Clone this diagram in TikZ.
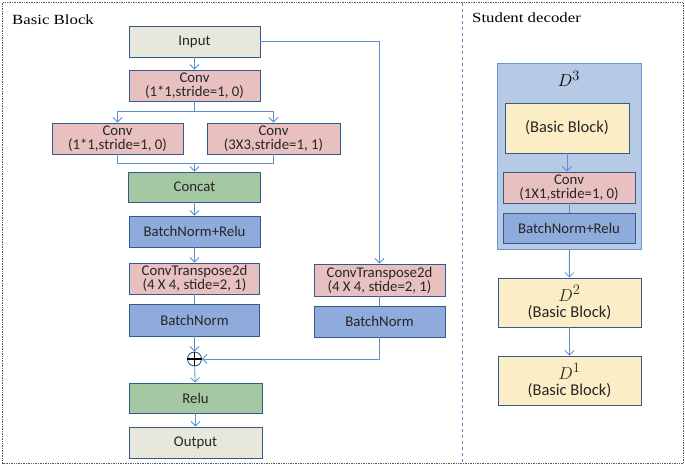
\documentclass[tikz,border=0pt]{standalone}
\usepackage{fontspec}
\setsansfont{Carlito}
\newfontfamily\titlefont[FakeStretch=1.2]{Liberation Serif}
\usetikzlibrary{arrows.meta}
\definecolor{bordc}{HTML}{34598C}
\definecolor{linec}{HTML}{5B8FCF}
\definecolor{beige}{HTML}{E8E7DB}
\definecolor{pinkc}{HTML}{E9C0C0}
\definecolor{greenc}{HTML}{A4C9A2}
\definecolor{bluec}{HTML}{8EABDB}
\definecolor{contc}{HTML}{B6CAE6}
\definecolor{contb}{HTML}{6F93C6}
\definecolor{yellc}{HTML}{FBEEC6}
\tikzset{
  box/.style={draw=bordc, line width=0.9pt, inner sep=0pt, align=center,
    font=\sffamily\fontsize{14.8}{14}\selectfont, text=black!85},
  conn/.style={draw=linec, line width=0.9pt},
  arr/.style={conn, -{Straight Barb[length=4.5pt,width=9pt,line width=0.8pt]}},
  ttl/.style={font=\titlefont\fontsize{14}{16}\selectfont, anchor=west, inner sep=0pt},
  dlab/.style={font=\fontsize{19}{19}\selectfont},
  bbtext/.style={font=\sffamily\fontsize{16.5}{17}\selectfont}
}
\begin{document}
\begin{tikzpicture}[x=1pt,y=-1pt]
\useasboundingbox (0,0) rectangle (685,466);
% frames
\draw[gray!70!black, densely dotted, line width=0.7pt] (2.5,2.5) rectangle (683,463.5);
\draw[linec!70!gray, dashed, line width=0.7pt] (462,2.5) -- (462,463.5);
\node[ttl] (t1) at (12,20) {Basic Block};
\node[ttl] (t2) at (472,18) {Student decoder};
% left panel
\node[box, fill=beige, minimum width=131, minimum height=31] (input) at (194.5,41.5) {Input};
\node[box, fill=pinkc, minimum width=131, minimum height=31] (conv0) at (194.5,85.5) {Conv\\(1*1,stride=1, 0)};
\node[box, fill=pinkc, minimum width=131, minimum height=31] (convL) at (117.5,138.5) {Conv\\(1*1,stride=1, 0)};
\node[box, fill=pinkc, minimum width=133, minimum height=31] (convR) at (273.5,138.5) {Conv\\(3X3,stride=1, 1)};
\node[box, fill=greenc, minimum width=132, minimum height=30] (concat) at (194.5,187) {Concat};
\node[box, fill=bluec, minimum width=131, minimum height=31] (bnr) at (194.5,231.5) {BatchNorm+Relu};
\node[box, fill=pinkc, minimum width=130, minimum height=31] (ctL) at (194.5,278.5) {ConvTranspose2d\\(4 X 4, stide=2, 1)};
\node[box, fill=bluec, minimum width=130, minimum height=32] (bnL) at (194.5,320) {BatchNorm};
\node[draw=bordc, line width=0.9pt, circle, minimum size=14pt, inner sep=0pt] (plus) at (194.5,359) {};
\draw[black, line width=1.3pt] (plus.north) -- (plus.south) (plus.west) -- (plus.east);
\node[box, fill=greenc, minimum width=133, minimum height=30] (relu) at (195.5,398) {Relu};
\node[box, fill=beige, minimum width=133, minimum height=31] (output) at (195.5,442.5) {Output};
\node[box, fill=pinkc, minimum width=131, minimum height=32] (ctR) at (379.5,280) {ConvTranspose2d\\(4 X 4, stide=2, 1)};
\node[box, fill=bluec, minimum width=131, minimum height=31] (bnR) at (379.5,321.5) {BatchNorm};
\coordinate (s1) at (194.5,111);
\coordinate (m1) at (194.5,163);
\draw[arr] (input) -- (conv0);
\draw[conn] (conv0) -- (s1);
\draw[arr] (s1) -| (convL);
\draw[arr] (s1) -| (convR);
\draw[conn] (convL) |- (m1);
\draw[conn] (convR) |- (m1);
\draw[arr] (m1) -- (concat);
\draw[arr] (concat) -- (bnr);
\draw[arr] (bnr) -- (ctL);
\draw[conn] (ctL) -- (bnL);
\draw[arr] (bnL) -- (plus);
\draw[arr] (plus) -- (relu);
\draw[arr] (relu) -- (output);
\draw[arr] (input) -| (ctR);
\draw[conn] (ctR) -- (bnR);
\draw[arr] (bnR) |- (plus);
% right panel
\node[draw=contb, line width=0.9pt, fill=contc, minimum width=144, minimum height=186, inner sep=0pt] (d3) at (569,156) {};
\node[dlab] (d3lab) at (569,79) {$D^3$};
\node[box, bbtext, fill=yellc, minimum width=124, minimum height=50] (bb) at (567,128) {(Basic Block)};
\node[box, fill=pinkc, minimum width=132, minimum height=31] (conv1) at (569,187.5) {Conv\\(1X1,stride=1, 0)};
\node[box, fill=bluec, minimum width=132, minimum height=30] (bnr2) at (569,228) {BatchNorm+Relu};
\node[box, bbtext, fill=yellc, minimum width=143, minimum height=49] (d2) at (569.5,302.5) {{\fontsize{19}{19}\selectfont$D^2$}\\[-1pt](Basic Block)};
\node[box, bbtext, fill=yellc, minimum width=143, minimum height=49] (d1) at (569.5,380.5) {{\fontsize{19}{19}\selectfont$D^1$}\\[-1pt](Basic Block)};
\draw[arr] (bb.south) -- (bb.south |- conv1.north);
\draw[conn] (conv1) -- (bnr2);
\draw[arr] (d3) -- (d2);
\draw[arr] (d2) -- (d1);
\end{tikzpicture}
\end{document}
